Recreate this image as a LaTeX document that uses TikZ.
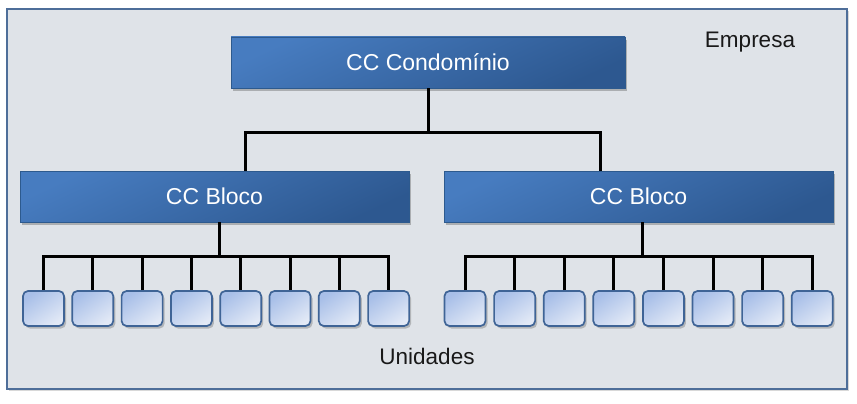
\documentclass[tikz,border=0pt]{standalone}
\usepackage{fontspec}
\setmainfont{Liberation Sans}
\usetikzlibrary{shadows,calc}
\definecolor{framebg}{HTML}{DFE3E8}
\definecolor{frameln}{HTML}{4E6E99}
\definecolor{boxA}{HTML}{477CC0}
\definecolor{boxB}{HTML}{2D5890}
\definecolor{boxln}{HTML}{2D5A8E}
\definecolor{leafA}{HTML}{A8BFE8}
\definecolor{leafB}{HTML}{E2E9F6}
\definecolor{leafln}{HTML}{3F6496}
\tikzset{
  bluebox/.style={draw=boxln, line width=0.8pt, top color=boxA, bottom color=boxB, shading angle=25,
    minimum height=51pt, inner sep=0pt, text=white, font=\fontsize{23}{27}\selectfont,
    drop shadow={shadow xshift=2pt, shadow yshift=-3pt, opacity=0.35, fill=black!70}},
  leaf/.style={draw=leafln, line width=1.7pt, rounded corners=5pt, top color=leafA, bottom color=leafB,
    shading angle=35, minimum width=41pt, minimum height=35pt, inner sep=0pt,
    drop shadow={shadow xshift=2pt, shadow yshift=-2.5pt, opacity=0.3, fill=black!70}},
  conn/.style={draw=black, line width=3pt, line join=miter},
  lbl/.style={text=black!90, font=\fontsize{22.5}{26}\selectfont, inner sep=0pt}
}
\begin{document}
\begin{tikzpicture}[x=1pt,y=-1pt]
\useasboundingbox (0,0) rectangle (857,404);
\fill[white] (0,0) rectangle (857,404);
% frame
\node[draw=frameln, line width=2.4pt, fill=framebg, minimum width=840pt, minimum height=380pt, inner sep=0pt,
  drop shadow={shadow xshift=1.5pt, shadow yshift=-2pt, opacity=0.25, fill=black!60}] (frame) at (427,199) {};
\node[lbl] (empresa) at (750,42) {Empresa};
\node[lbl] (unidades) at (427,356) {Unidades};
% boxes
\node[bluebox, minimum width=394pt] (top) at (428,62.5) {CC Condomínio};
\node[bluebox, minimum width=389pt] (lb) at (214.5,196.5) {CC Bloco};
\node[bluebox, minimum width=389pt] (rb) at (638.5,196.5) {CC Bloco};
% leaves
\foreach \i in {0,...,7}{
  \node[leaf] (l\i) at ({43.5+49.3*\i},308.5) {};
  \node[leaf] (r\i) at ({465+49.6*\i},308.5) {};
}
% junction levels
\coordinate (hy1) at (0,132);
\coordinate (hy2) at (0,256);
\coordinate (lbt) at ([xshift=30.5pt]lb.north);
\coordinate (rbt) at ([xshift=-38.5pt]rb.north);
\coordinate (lbs) at ([xshift=4.5pt]lb.south);
\coordinate (rbs) at ([xshift=3.5pt]rb.south);
% connectors
\draw[conn] (top.south) -- (top.south |- hy1);
\draw[conn] (lbt) |- (top.south |- hy1) -| (rbt);
\draw[conn] (lbs) -- (lbs |- hy2);
\draw[conn] (rbs) -- (rbs |- hy2);
\draw[conn] (l0.north) |- (lbs |- hy2) -| (l7.north);
\draw[conn] (r0.north) |- (rbs |- hy2) -| (r7.north);
\foreach \i in {1,...,6}{
  \draw[conn] (l\i.north) -- (l\i.north |- hy2);
  \draw[conn] (r\i.north) -- (r\i.north |- hy2);
}
\end{tikzpicture}
\end{document}
